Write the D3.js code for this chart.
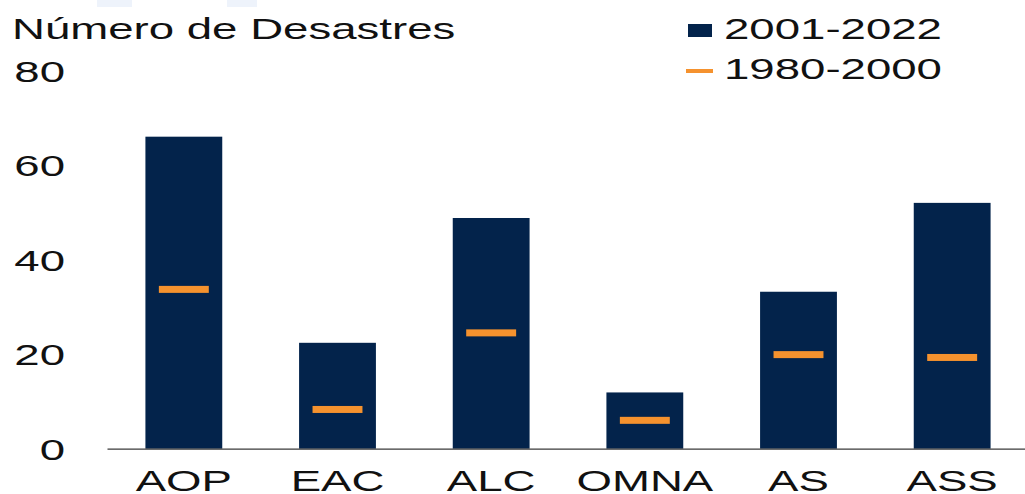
<!DOCTYPE html>
<html>
<head>
<meta charset="utf-8">
<script src="https://cdn.jsdelivr.net/npm/d3@7"></script>
<style>
  html, body { margin: 0; padding: 0; background: #fff; }
  svg { display: block; font-family: "Liberation Sans", Arial, sans-serif; }
</style>
</head>
<body>
<svg id="chart"></svg>
<script>
// data
const regions = ["AOP", "EAC", "ALC", "OMNA", "AS", "ASS"];
const recent = [66, 22.4, 48.8, 11.9, 33.2, 52];      // 2001-2022
const earlier = [33.7, 8.3, 24.5, 6.0, 19.9, 19.3];   // 1980-2000
const yTicks = [0, 20, 40, 60, 80];
const seriesNames = ["2001-2022", "1980-2000"];

const W = 1025, H = 494;
const navy = "#03234b";
const orange = "#f5922e";
const stretch = 1.52; // text in the source is drawn wide

const svg = d3.select("#chart").attr("width", W).attr("height", H);

// faint strip marks at the very top of the source
svg.append("rect").attr("x", 97).attr("y", 0).attr("width", 35).attr("height", 7).attr("fill", "#eef3fb");
svg.append("rect").attr("x", 227).attr("y", 0).attr("width", 30).attr("height", 7).attr("fill", "#eef3fb");

const x = d3.scaleBand()
  .domain(regions)
  .range([107, 1029])
  .paddingInner(0.5)
  .paddingOuter(0.25);

const y = d3.scaleLinear()
  .domain([0, 80])
  .range([448.7, 70.5]);

// --- bars ---
svg.append("g")
  .selectAll("rect")
  .data(regions)
  .join("rect")
  .attr("x", (d) => x(d))
  .attr("y", (d, i) => y(recent[i]))
  .attr("width", x.bandwidth())
  .attr("height", (d, i) => y(0) - y(recent[i]))
  .attr("fill", navy);

// --- 1980-2000 markers ---
const mw = x.bandwidth() * 0.65;
svg.append("g")
  .selectAll("rect")
  .data(regions)
  .join("rect")
  .attr("x", (d) => x(d) + (x.bandwidth() - mw) / 2)
  .attr("y", (d, i) => y(earlier[i]) - 3.5)
  .attr("width", mw)
  .attr("height", 7)
  .attr("fill", orange);

// --- Y axis (labels only) ---
const yAxis = svg.append("g")
  .attr("transform", "translate(65,0)")
  .call(d3.axisLeft(y).tickValues(yTicks).tickSize(0).tickPadding(0));
yAxis.select(".domain").remove();
yAxis.selectAll("text")
  .attr("x", 0)
  .attr("dy", "0.36em")
  .attr("text-anchor", "end")
  .attr("transform", `scale(${stretch},1)`)
  .style("font-size", "30px")
  .style("font-family", "'Liberation Sans', Arial, sans-serif")
  .attr("fill", "#111");

// --- X axis ---
const xAxis = svg.append("g")
  .attr("transform", `translate(0,${y(0)})`)
  .call(d3.axisBottom(x).tickSize(0).tickSizeOuter(0));
xAxis.select(".domain")
  .attr("stroke", "#3a3a3a")
  .attr("stroke-width", 1.3);
xAxis.selectAll("text")
  .attr("y", 42)
  .attr("dy", 0)
  .attr("transform", `scale(${stretch},1)`)
  .style("font-size", "30px")
  .style("font-family", "'Liberation Sans', Arial, sans-serif")
  .attr("fill", "#111");

// --- title ---
svg.append("text")
  .attr("transform", `translate(12,39) scale(${stretch},1)`)
  .style("font-size", "30px")
  .attr("fill", "#111")
  .text("Número de Desastres");

// --- legend ---
const legend = svg.append("g");
legend.append("rect")
  .attr("x", 688).attr("y", 24).attr("width", 24).attr("height", 13)
  .attr("fill", navy);
legend.append("rect")
  .attr("x", 686).attr("y", 69).attr("width", 27).attr("height", 4)
  .attr("fill", orange);
legend.selectAll("text.lg")
  .data(seriesNames)
  .join("text")
  .attr("class", "lg")
  .attr("transform", (d, i) => `translate(724,${39 + i * 40}) scale(${stretch},1)`)
  .style("font-size", "30px")
  .attr("fill", "#111")
  .text((d) => d);
</script>
</body>
</html>
